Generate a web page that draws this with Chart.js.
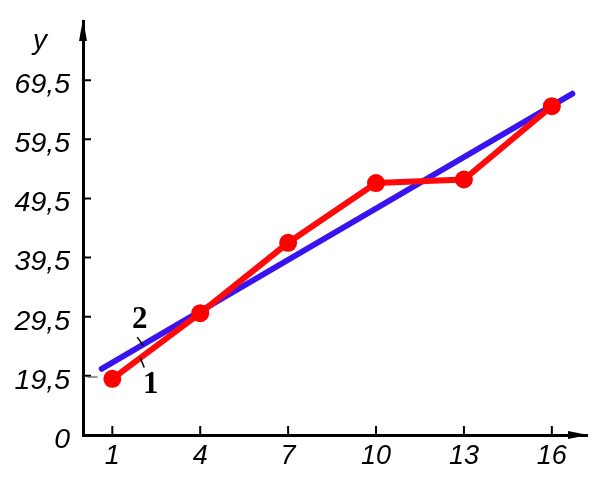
<!DOCTYPE html>
<html>
<head>
<meta charset="utf-8">
<script src="https://cdn.jsdelivr.net/npm/chart.js@4"></script>
<style>
  html, body { margin: 0; padding: 0; background: #fff; }
  #wrap { width: 597px; height: 483px; }
</style>
</head>
<body>
<div id="wrap"><canvas id="chart"></canvas></div>
<script>
// ── Data ─────────────────────────────────────────────────────────
const xTicks = [1, 4, 7, 10, 13, 16];
const yTicks = [9.5, 19.5, 29.5, 39.5, 49.5, 59.5, 69.5]; // 9.5 is shown as "0" (broken axis)
const observedX = [1, 4, 7, 10, 13, 16];
const observedY = [19.0, 30.1, 42.0, 52.1, 52.7, 65.1];
const trendX = [0.64, 16.7];
const trendY = [20.7, 67.2];

const fontFamily = '"Liberation Sans", Arial, sans-serif';

// ── Axes with arrows, inner ticks and curve labels ───────────────
const sketchAxes = {
  id: 'sketchAxes',
  afterDraw(chart) {
    const { ctx, chartArea: a, scales: { x, y } } = chart;
    ctx.save();
    ctx.strokeStyle = '#000';
    ctx.fillStyle = '#000';

    // inner tick marks
    ctx.lineWidth = 2;
    ctx.beginPath();
    yTicks.slice(1).forEach(v => {
      const py = y.getPixelForValue(v);
      ctx.moveTo(a.left, py); ctx.lineTo(a.left + 8, py);
    });
    xTicks.forEach(v => {
      const px = x.getPixelForValue(v);
      ctx.moveTo(px, a.bottom); ctx.lineTo(px, a.bottom - 9);
    });
    ctx.stroke();

    // arrow heads
    ctx.beginPath();
    ctx.moveTo(a.left, a.top - 2);
    ctx.lineTo(a.left - 4, a.top + 20);
    ctx.lineTo(a.left + 4, a.top + 20);
    ctx.closePath();
    ctx.fill();
    ctx.beginPath();
    ctx.moveTo(a.right + 1, a.bottom);
    ctx.lineTo(a.right - 19, a.bottom - 4);
    ctx.lineTo(a.right - 19, a.bottom + 4);
    ctx.closePath();
    ctx.fill();

    // axis name
    ctx.font = 'italic 28px ' + fontFamily;
    ctx.textAlign = 'center';
    ctx.textBaseline = 'middle';
    ctx.fillText('y', 40, 41);

    // curve numbers with leaders
    ctx.font = 'bold 31px "Liberation Serif", "Times New Roman", serif';
    ctx.fillText('2', x.getPixelForValue(1.94), y.getPixelForValue(29.0));
    ctx.fillText('1', x.getPixelForValue(2.31), y.getPixelForValue(18.0));
    ctx.lineWidth = 1.5;
    ctx.beginPath();
    ctx.moveTo(x.getPixelForValue(1.85), y.getPixelForValue(26.05));
    ctx.lineTo(x.getPixelForValue(2.06), y.getPixelForValue(24.6));
    ctx.moveTo(x.getPixelForValue(1.95), y.getPixelForValue(22.6));
    ctx.lineTo(x.getPixelForValue(2.09), y.getPixelForValue(20.9));
    ctx.stroke();

    // small dash from the axis to the first point
    ctx.strokeStyle = '#555';
    ctx.lineWidth = 1.2;
    ctx.beginPath();
    ctx.moveTo(x.getPixelForValue(0.15), y.getPixelForValue(19.3));
    ctx.lineTo(x.getPixelForValue(0.5), y.getPixelForValue(19.3));
    ctx.stroke();
    ctx.restore();
  }
};

new Chart(document.getElementById('chart'), {
  type: 'scatter',
  data: {
    datasets: [
      {
        label: '2',
        data: trendX.map((v, i) => ({ x: v, y: trendY[i] })),
        showLine: true,
        borderColor: 'rgb(58,20,240)',
        borderWidth: 6,
        borderCapStyle: 'round',
        pointRadius: 0,
        order: 2,
      },
      {
        label: '1',
        data: observedX.map((v, i) => ({ x: v, y: observedY[i] })),
        showLine: true,
        borderColor: '#ff0a0a',
        borderWidth: 6,
        borderCapStyle: 'round',
        backgroundColor: '#ff0000',
        pointRadius: 9,
        pointBorderWidth: 0,
        order: 1,
      },
    ],
  },
  options: {
    responsive: true,
    maintainAspectRatio: false,
    animation: false,
    layout: { padding: { top: 21, right: 10, left: 0, bottom: 0 } },
    plugins: { legend: { display: false }, tooltip: { enabled: false } },
    scales: {
      x: {
        type: 'linear',
        min: 0,
        max: 17.2,
        afterBuildTicks: s => { s.ticks = xTicks.map(v => ({ value: v })); },
        afterFit: s => { s.height = 48; s.paddingLeft = 0; s.paddingRight = 0; },
        grid: { drawOnChartArea: false, drawTicks: false },
        border: { color: '#000', width: 3 },
        ticks: {
          color: '#000',
          font: { family: fontFamily, size: 27, style: 'italic' },
          padding: 5,
          maxRotation: 0,
          autoSkip: false,
        },
      },
      y: {
        type: 'linear',
        min: 9.5,
        max: 79.5,
        afterBuildTicks: s => { s.ticks = yTicks.map(v => ({ value: v })); },
        afterFit: s => { s.width = 83; s.paddingTop = 0; s.paddingBottom = 0; },
        grid: { drawOnChartArea: false, drawTicks: false },
        border: { color: '#000', width: 3 },
        ticks: {
          color: '#000',
          font: { family: fontFamily, size: 28.5, style: 'italic' },
          padding: 13,
          labelOffset: 5,
          autoSkip: false,
          callback: v => (v === 9.5 ? '0' : v.toFixed(1).replace('.', ',')),
        },
      },
    },
  },
  plugins: [sketchAxes],
});
</script>
</body>
</html>
